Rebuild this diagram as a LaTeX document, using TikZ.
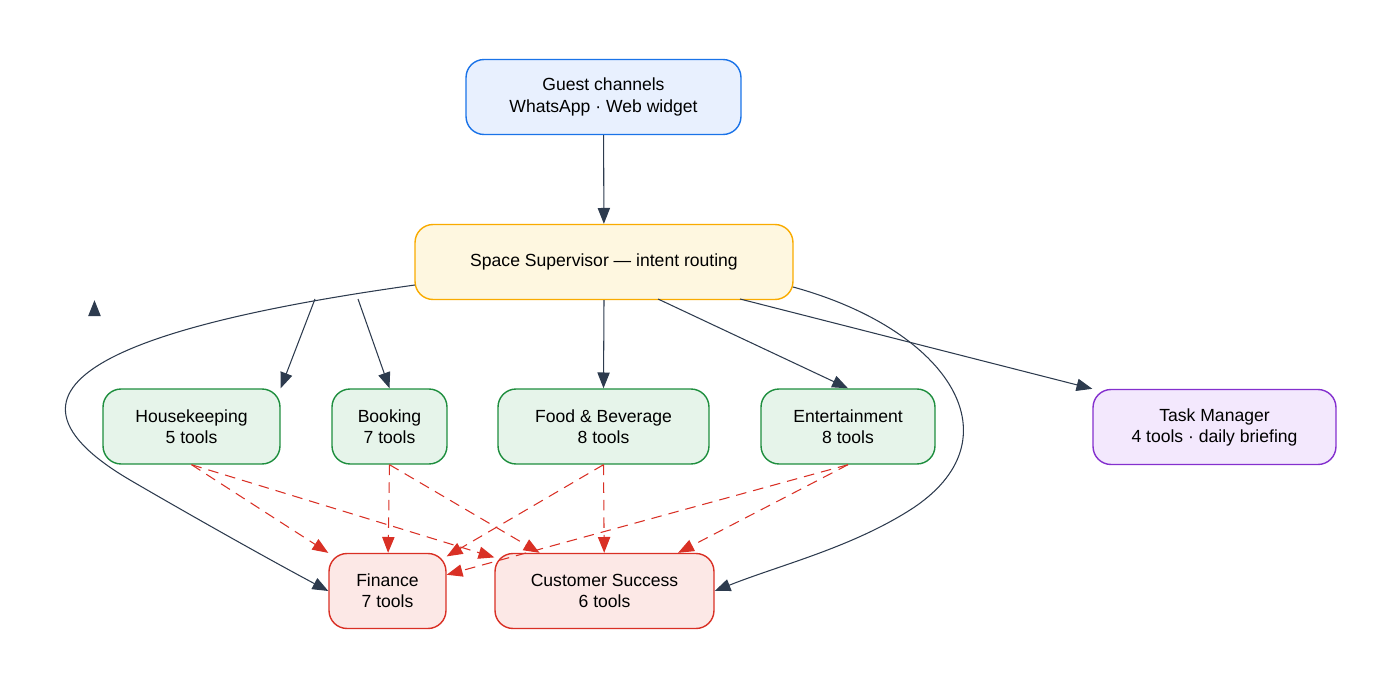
\documentclass[tikz,border=0pt]{standalone}
\usepackage{fontspec}
\setmainfont{Liberation Sans}
\usetikzlibrary{arrows.meta}
\definecolor{edgec}{HTML}{2D3B4E}
\definecolor{blueb}{HTML}{1A73E8}\definecolor{bluef}{HTML}{E8F0FE}
\definecolor{yelb}{HTML}{F9AB00}\definecolor{yelf}{HTML}{FEF7E0}
\definecolor{grnb}{HTML}{1E8E3E}\definecolor{grnf}{HTML}{E6F4EA}
\definecolor{redb}{HTML}{D93025}\definecolor{redf}{HTML}{FCE8E6}
\definecolor{purb}{HTML}{8430CE}\definecolor{purf}{HTML}{F3E8FD}
\begin{document}
\begin{tikzpicture}[x=0.02cm,y=-0.02cm,
    box/.style={draw, thick, rounded corners=0.36cm, align=center, inner sep=0pt,
        minimum height=1.5cm, font=\fontsize{10}{12}\selectfont},
    entry/.style={box, draw=blueb, fill=bluef},
    super/.style={box, draw=yelb, fill=yelf},
    agent/.style={box, draw=grnb, fill=grnf},
    back/.style={box, draw=redb, fill=redf},
    task/.style={box, draw=purb, fill=purf},
    link/.style={draw=edgec, semithick, -{Triangle[length=9pt,width=7pt]}},
    hand/.style={draw=redb, semithick, dashed, dash pattern=on 6pt off 4pt, -{Triangle[length=9pt,width=7pt]}}]
    \useasboundingbox (0,0) rectangle (1396,689);

    \node[entry, minimum width=5.5cm] (guest) at (603.5,97) {Guest channels\\WhatsApp · Web widget};
    \node[super, minimum width=7.56cm] (sup) at (604,262) {Space Supervisor — intent routing};

    \node[agent, minimum width=3.54cm] (house) at (191.5,426.5) {Housekeeping\\5 tools};
    \node[agent, minimum width=2.3cm] (book) at (389.5,426.5) {Booking\\7 tools};
    \node[agent, minimum width=4.22cm] (food) at (603.5,426.5) {Food \& Beverage\\8 tools};
    \node[agent, minimum width=3.48cm] (ent) at (848,426.5) {Entertainment\\8 tools};
    \node[task, minimum width=4.86cm] (task) at (1214.5,427) {Task Manager\\4 tools · daily briefing};

    \node[back, minimum width=2.34cm] (fin) at (387.5,591) {Finance\\7 tools};
    \node[back, minimum width=4.38cm] (cs) at (604.5,591) {Customer Success\\6 tools};

    \draw[link] (guest) -- (sup);
    \draw[link] (sup.south) ++(-290pt,0) coordinate (dummy);
    \draw[link] (315,299) -- (house.north east);
    \draw[link] (358,299) -- (book.north);
    \draw[link] (sup.south) -- (food.north);
    \draw[link] (658,299) -- (ent.north);
    \draw[link] (740,299) -- (task.north west);
    \draw[link] (415,285) .. controls (150,322) and (-40,380) .. (130,480)
        .. controls (190,515) and (270,560) .. (fin.west);
    \draw[link] (793,287) .. controls (950,330) and (1020,440) .. (910,510)
        .. controls (850,548) and (780,565) .. (cs.east);

    \foreach \a in {house,book,food,ent} {
        \draw[hand] (\a.south) -- (fin);
        \draw[hand] (\a.south) -- (cs);
    }
\end{tikzpicture}
\end{document}
